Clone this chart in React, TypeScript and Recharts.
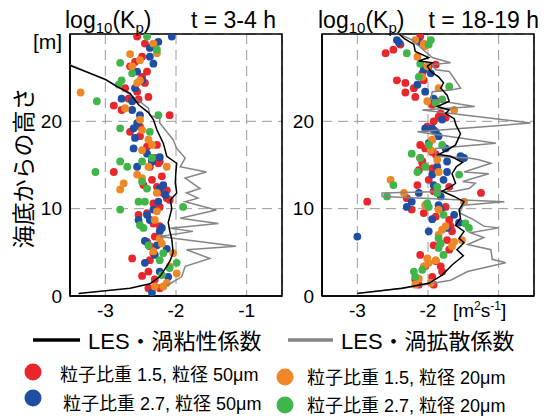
import React from 'react';
import { ScatterChart, Scatter, XAxis, YAxis, CartesianGrid, ReferenceArea } from 'recharts';

// ---- axes ----
const xTicks = [-3, -2, -1];
const yTicks = [0, 10, 20];
const xDomain = [-3.5, -0.5];
const yDomain = [0, 30];

// ---- t = 3-4 h panel : [log10(Kp), height m] ----
const leftRed = [
  [-2.55, 29.7], [-2.44, 28.9], [-2.32, 28.8], [-2.58, 26.8], [-2.48, 27.4], [-2.65, 26.3], [-2.41, 25.7], [-2.48, 25.1],
  [-2.44, 24.4], [-2.72, 23.8], [-2.55, 23.4], [-2.39, 22.8], [-2.67, 22.6], [-2.53, 22.5], [-2.88, 21.8], [-2.77, 21.3],
  [-2.09, 20.7], [-2.51, 19.4], [-2.65, 18.8], [-2.51, 18.3], [-2.27, 17.3], [-2.41, 17.1], [-2.30, 15.8], [-2.23, 15.4],
  [-2.88, 14.2], [-2.37, 14.8], [-2.25, 15.2], [-2.34, 13.3], [-2.27, 12.5], [-2.46, 12.7], [-2.18, 11.8], [-2.13, 11.2],
  [-2.32, 10.6], [-2.23, 10.2], [-2.41, 9.5], [-2.53, 9.3], [-2.32, 8.3], [-2.23, 8.0], [-2.30, 6.8], [-2.41, 6.2],
  [-2.37, 5.7], [-2.32, 4.9], [-2.62, 4.3], [-2.37, 4.1], [-2.39, 2.8], [-2.48, 2.3], [-2.30, 1.9], [-2.39, 0.9],
  [-2.23, 0.9], [-2.09, 11.0], [-2.13, 12.1], [-2.20, 13.7],
];
const leftBlue = [
  [-2.06, 29.7], [-2.25, 29.1], [-2.37, 28.4], [-2.37, 27.4], [-2.32, 26.6], [-2.55, 25.7], [-2.48, 24.7], [-2.58, 23.8],
  [-2.77, 22.6], [-2.62, 22.3], [-2.62, 21.3], [-2.51, 20.7], [-2.55, 19.8], [-2.60, 19.2], [-2.58, 18.1], [-2.60, 16.9],
  [-2.41, 16.3], [-2.23, 15.9], [-2.34, 15.4],
  [-2.55, 14.8], [-2.34, 15.4], [-2.18, 12.7], [-2.23, 12.3], [-2.15, 11.6], [-2.25, 10.8], [-2.32, 9.9], [-2.41, 9.3],
  [-2.53, 8.7], [-2.37, 8.7], [-2.20, 7.8], [-2.23, 7.4], [-2.44, 6.3], [-2.27, 5.8], [-2.13, 5.4], [-2.30, 4.7],
  [-2.44, 3.8], [-2.23, 2.8], [-2.11, 2.2], [-2.34, 0.4],
];
const leftOrange = [
  [-2.32, 28.9], [-2.27, 27.8], [-2.65, 27.7], [-2.51, 27.0], [-2.62, 26.3], [-2.51, 24.7], [-2.55, 24.4], [-3.35, 23.3],
  [-2.72, 21.5], [-2.51, 20.2], [-2.48, 19.0], [-2.39, 17.9], [-2.34, 17.3], [-2.48, 16.7],
  [-2.74, 12.9], [-2.79, 12.2], [-2.55, 13.9], [-2.48, 13.5], [-2.13, 14.8], [-2.39, 14.8], [-2.27, 11.8], [-2.27, 9.7],
  [-2.30, 8.7], [-2.23, 6.6], [-2.20, 6.0], [-2.32, 5.1], [-2.04, 4.9], [-2.09, 3.4], [-1.99, 2.6], [-2.13, 1.5],
  [-2.18, 1.1], [-2.30, 1.1],
];
const leftGreen = [
  [-2.41, 29.7], [-2.27, 28.2], [-2.79, 26.7], [-2.62, 25.5], [-2.77, 24.7], [-2.81, 24.2], [-3.12, 22.3], [-2.25, 20.7],
  [-2.79, 19.2], [-2.37, 18.8], [-2.34, 15.8], [-2.48, 15.4], [-2.79, 15.4],
  [-3.14, 14.2], [-2.69, 14.8], [-2.48, 13.1], [-2.41, 12.3], [-2.53, 10.8], [-2.44, 10.8], [-2.79, 9.9], [-2.51, 8.1],
  [-2.46, 7.8], [-1.90, 10.2], [-2.39, 5.8], [-2.18, 4.9], [-2.23, 4.1], [-1.99, 3.8], [-2.09, 3.2], [-2.20, 2.4],
];
const leftViscosity = [
  [-3.38, 0.3], [-2.65, 0.9], [-2.37, 1.4], [-2.23, 2.2], [-2.13, 3.4], [-2.08, 4.1], [-2.04, 5.0], [-2.06, 6.5],
  [-2.09, 7.5], [-2.11, 8.4], [-2.06, 10.0], [-2.08, 11.0], [-1.99, 11.8], [-2.01, 13.0], [-2.0, 14.4], [-1.99, 15.2],
  [-2.13, 16.0], [-2.18, 17.5], [-2.27, 19.0], [-2.32, 20.2], [-2.39, 21.0], [-2.53, 21.9], [-2.65, 23.2], [-2.84, 24.0],
  [-3.0, 24.8], [-3.5, 26.4],
];
const leftDiffusivity = [
  [-2.13, 1.2], [-1.92, 2.2], [-1.87, 3.4], [-1.52, 4.3], [-1.85, 5.3], [-1.15, 5.7], [-2.23, 6.8], [-1.76, 7.4],
  [-2.08, 7.75], [-1.40, 8.3], [-1.94, 8.9], [-1.43, 9.85], [-1.87, 10.8], [-1.69, 11.2], [-1.85, 11.8], [-1.66, 12.3],
  [-1.87, 13.5], [-1.57, 14.2], [-1.94, 14.8], [-1.87, 15.8], [-1.99, 16.9], [-2.04, 17.9], [-2.23, 19.8], [-2.23, 20.3],
  [-2.37, 20.7], [-2.39, 21.5], [-2.55, 22.5], [-2.79, 23.8], [-2.98, 24.7], [-3.5, 26.5],
];

// ---- t = 18-19 h panel ----
const rightRed = [
  [-2.60, 27.8], [-2.49, 28.2], [-2.39, 28.8], [-2.11, 29.7], [-1.89, 26.5], [-1.99, 26.3], [-2.08, 25.5], [-2.44, 24.7],
  [-2.32, 24.4], [-2.20, 23.8], [-2.32, 23.3], [-2.18, 22.8], [-2.06, 24.7], [-1.89, 22.3], [-1.94, 21.9], [-1.85, 20.5],
  [-1.92, 20.0], [-2.01, 19.4], [-1.92, 19.0], [-2.11, 17.3], [-2.04, 16.9], [-1.94, 16.5], [-1.89, 16.2], [-2.11, 15.8],
  [-2.08, 15.4], [-1.75, 20.4], [-1.82, 20.9],
  [-2.08, 15.2], [-2.13, 14.4], [-1.94, 14.6], [-1.99, 13.3], [-2.15, 12.7], [-1.92, 12.0], [-1.85, 11.8], [-1.70, 12.5],
  [-1.25, 11.8], [-2.86, 10.8], [-2.30, 11.2], [-2.23, 9.9], [-2.06, 9.5], [-1.89, 9.1], [-1.75, 10.2], [-1.70, 8.7],
  [-1.68, 8.0], [-1.66, 7.4], [-1.73, 6.4], [-1.92, 5.8], [-1.70, 5.3], [-2.11, 4.7], [-1.89, 4.0], [-2.04, 3.4],
  [-1.82, 3.4], [-1.80, 2.8], [-1.94, 2.2], [-2.18, 1.9], [-2.13, 1.3], [-1.92, 1.3],
];
const rightBlue = [
  [-2.44, 29.3], [-2.41, 29.0], [-2.13, 29.1], [-2.06, 25.9], [-1.96, 25.5], [-2.15, 24.2], [-2.04, 23.4], [-1.92, 22.6],
  [-2.04, 19.2], [-1.94, 19.2], [-1.80, 20.2], [-1.89, 18.8], [-1.99, 17.5], [-1.85, 18.3], [-1.75, 16.9], [-1.73, 15.4],
  [-1.54, 16.0], [-1.49, 15.8],
  [-1.87, 14.8], [-1.73, 14.2], [-1.94, 13.9], [-1.78, 13.3], [-1.92, 12.7], [-2.13, 11.8], [-1.82, 11.4], [-2.23, 10.8],
  [-2.30, 10.2], [-1.85, 10.4], [-1.82, 9.9], [-1.63, 9.3], [-1.94, 8.8], [-1.56, 8.4], [-1.73, 7.8], [-1.99, 7.4],
  [-3.00, 6.8],
];
const rightOrange = [
  [-2.06, 28.9], [-2.04, 28.6], [-2.18, 29.3], [-2.15, 27.4], [-2.01, 26.3], [-2.08, 25.1], [-1.85, 23.8], [-2.01, 22.3],
  [-1.63, 21.3], [-1.94, 17.9], [-1.96, 16.7], [-1.87, 15.6],
  [-2.53, 13.3], [-2.34, 11.8], [-1.85, 14.2], [-2.04, 10.4], [-1.85, 9.9], [-1.49, 10.8], [-1.75, 8.0], [-1.80, 7.6],
  [-1.85, 7.0], [-1.63, 6.2], [-1.52, 6.4], [-1.66, 5.7], [-1.89, 4.1], [-1.99, 3.8], [-2.01, 4.3], [-2.06, 3.4],
  [-2.13, 2.0], [-2.18, 1.3], [-1.96, 1.5],
];
const rightGreen = [
  [-2.30, 27.8], [-1.99, 28.8], [-1.96, 29.3], [-2.11, 26.6], [-2.13, 25.1], [-1.70, 24.0], [-1.80, 22.5], [-1.89, 22.1],
  [-1.99, 17.3], [-1.80, 17.3], [-2.23, 16.3], [-2.11, 15.8],
  [-2.04, 14.8], [-2.15, 14.2], [-1.56, 13.9], [-2.49, 12.7], [-1.87, 12.5], [-1.87, 11.8], [-2.58, 11.4], [-2.01, 10.6],
  [-1.99, 10.2], [-1.78, 9.3], [-1.47, 8.3], [-1.42, 7.8], [-1.85, 6.6], [-1.82, 6.0], [-1.85, 5.5], [-1.78, 4.7],
  [-2.08, 3.0], [-2.20, 2.8], [-2.18, 2.2],
];
const rightViscosity = [
  [-3.0, 0.3], [-2.37, 0.9], [-1.99, 1.45], [-1.80, 2.4], [-1.66, 3.55], [-1.50, 4.6], [-1.59, 5.3], [-1.49, 6.1],
  [-1.56, 6.6], [-1.49, 7.4], [-1.61, 8.1], [-1.54, 8.9], [-1.56, 9.85], [-1.49, 10.8], [-1.63, 11.4], [-1.80, 12.0],
  [-1.68, 12.5], [-1.61, 12.9], [-1.66, 14.0], [-1.60, 14.8], [-1.51, 15.3], [-1.68, 16.0], [-1.85, 16.2], [-1.73, 16.7],
  [-1.61, 17.3], [-1.54, 18.6], [-1.60, 19.5], [-1.63, 20.3], [-1.75, 20.9], [-1.70, 21.3], [-1.87, 21.7], [-1.70, 22.3],
  [-1.73, 23.0], [-1.82, 23.8], [-1.78, 24.4], [-1.85, 25.1], [-1.96, 25.7], [-2.01, 26.3], [-1.94, 26.7], [-2.13, 26.9],
  [-1.99, 27.3], [-2.18, 28.0], [-2.20, 28.8], [-2.34, 29.5], [-2.41, 30.0],
];
const rightDiffusivity = [
  [-3.0, 0.3], [-2.35, 0.9], [-1.68, 1.8], [-1.44, 2.8], [-0.90, 3.8], [-1.09, 4.2], [-1.11, 5.3], [-1.44, 5.9],
  [-1.21, 6.7], [-1.40, 7.25], [-1.0, 7.8], [-1.21, 8.0], [-1.37, 8.8], [-1.55, 9.5], [-1.50, 10.4], [-0.92, 10.8],
  [-2.65, 11.4], [-2.65, 11.8], [-1.63, 12.0], [-1.42, 12.3], [-1.33, 12.9], [-1.51, 13.1], [-1.14, 14.0], [-1.49, 14.2],
  [-1.11, 15.2], [-1.28, 15.6], [-1.42, 15.8], [-1.89, 16.0], [-1.89, 16.9], [-1.04, 17.5], [-2.15, 18.8], [-0.55, 19.8],
  [-2.08, 21.3], [-1.34, 21.7], [-1.96, 22.5], [-1.94, 23.4], [-1.68, 23.6], [-1.54, 23.8], [-1.63, 24.9], [-1.70, 25.7],
  [-1.89, 25.9], [-1.94, 26.5], [-1.68, 26.7], [-1.94, 27.3], [-2.04, 28.0], [-2.22, 29.3], [-2.41, 30.0],
];

const RED = '#e8262c';
const BLUE = '#1f4fa3';
const ORANGE = '#ef8726';
const GREEN = '#3fb54a';
const GRAY = '#858585';
const FONT = "'Liberation Sans', Arial, 'Noto Sans CJK JP', sans-serif";
const JFONT = "'Liberation Sans', Arial, 'Noto Sans CJK JP', sans-serif";

const toObj = (arr: number[][]) => arr.map(([x, y]) => ({ x, y }));

const dot = (color: string) => (props: any) => (
  <circle cx={props.cx} cy={props.cy} r={3.9} fill={color} />
);
const noDot = () => <g />;

function Panel({ red, blue, orange, green, visc, diff, showLast }: any) {
  return (
    <ScatterChart width={290} height={330} margin={{ top: 34, right: 8, bottom: 4, left: 40 }}>
      <CartesianGrid stroke="#9a9a9a" strokeDasharray="10 6" strokeWidth={1} />
      <XAxis
        type="number"
        dataKey="x"
        domain={xDomain}
        ticks={xTicks}
        allowDataOverflow
        height={30}
        axisLine={{ stroke: '#000', strokeWidth: 1.6 }}
        tickLine={false}
        tick={{ fill: '#000', fontSize: 19, fontFamily: FONT }}
        tickFormatter={(v: number) => (!showLast && v === -1 ? '' : String(v))}
      />
      <YAxis
        type="number"
        dataKey="y"
        domain={yDomain}
        ticks={yTicks}
        allowDataOverflow
        width={30}
        axisLine={{ stroke: '#000', strokeWidth: 1.6 }}
        tickLine={false}
        tick={{ fill: '#000', fontSize: 19, fontFamily: FONT }}
      />
      <ReferenceArea x1={-3.5} x2={-0.5} y1={0} y2={30} fill="none" stroke="#000" strokeWidth={1.6} />
      <Scatter data={toObj(red)} shape={dot(RED)} isAnimationActive={false} />
      <Scatter data={toObj(blue)} shape={dot(BLUE)} isAnimationActive={false} />
      <Scatter data={toObj(orange)} shape={dot(ORANGE)} isAnimationActive={false} />
      <Scatter data={toObj(green)} shape={dot(GREEN)} isAnimationActive={false} />
      <Scatter data={toObj(diff)} shape={noDot} line={{ stroke: GRAY, strokeWidth: 1.5 }} fill={GRAY} isAnimationActive={false} />
      <Scatter data={toObj(visc)} shape={noDot} line={{ stroke: '#000', strokeWidth: 1.5 }} fill="#000" isAnimationActive={false} />
    </ScatterChart>
  );
}

function Title({ x, right, time }: { x: number; right: number; time: string }) {
  return (
    <g fontFamily={FONT} fill="#000">
      <text x={x} y={28} fontSize={23}>
        log<tspan fontSize={15} dy={5}>10</tspan>
        <tspan dy={-5}>(K</tspan>
        <tspan fontSize={15} dy={5}>p</tspan>
        <tspan dy={-5}>)</tspan>
      </text>
      <text x={right} y={28} fontSize={23} textAnchor="end">{time}</text>
    </g>
  );
}

export default function App() {
  return (
    <div style={{ position: 'absolute', left: 0, top: 0, width: 547, height: 416, background: '#fff', overflow: 'hidden' }}>
      <div style={{ position: 'absolute', left: 0, top: 0 }}>
        <Panel red={leftRed} blue={leftBlue} orange={leftOrange} green={leftGreen} visc={leftViscosity} diff={leftDiffusivity} showLast />
      </div>
      <div style={{ position: 'absolute', left: 252, top: 0 }}>
        <Panel red={rightRed} blue={rightBlue} orange={rightOrange} green={rightGreen} visc={rightViscosity} diff={rightDiffusivity} showLast={false} />
      </div>
      <svg width={547} height={416} style={{ position: 'absolute', left: 0, top: 0, pointerEvents: 'none' }}>
        <Title x={65} right={276} time="t = 3-4 h" />
        <Title x={318} right={539} time="t = 18-19 h" />
        <text x={33} y={49} fontSize={21} fontFamily={FONT}>[m]</text>
        <text
          transform="translate(24,168) rotate(-90)"
          textAnchor="middle"
          dominantBaseline="central"
          fontSize={23}
          fontFamily={JFONT}
        >
          海底からの高さ
        </text>
        <text x={453} y={317} fontSize={19} fontFamily={FONT}>
          [m<tspan fontSize={12} dy={-7}>2</tspan>
          <tspan dy={7}>s</tspan>
          <tspan fontSize={12} dy={-7}>-1</tspan>
          <tspan dy={7}>]</tspan>
        </text>
        {/* legend lines */}
        <line x1={33} x2={80} y1={340} y2={340} stroke="#000" strokeWidth={3.5} />
        <text x={88} y={349} fontSize={22} fontFamily={JFONT}>LES・渦粘性係数</text>
        <line x1={288} x2={333} y1={340} y2={340} stroke={GRAY} strokeWidth={3.5} />
        <text x={341} y={349} fontSize={22} fontFamily={JFONT}>LES・渦拡散係数</text>
        {/* legend dots */}
        <circle cx={33} cy={372} r={8.5} fill={RED} />
        <text x={60} y={381} fontSize={18} fontFamily={JFONT}>粒子比重 1.5, 粒径 50μm</text>
        <circle cx={33} cy={398} r={8.5} fill={BLUE} />
        <text x={63} y={410} fontSize={18} fontFamily={JFONT}>粒子比重 2.7, 粒径 50μm</text>
        <circle cx={285} cy={377} r={8.5} fill={ORANGE} />
        <text x={307} y={384} fontSize={18} fontFamily={JFONT}>粒子比重 1.5, 粒径 20μm</text>
        <circle cx={285} cy={405} r={8.5} fill={GREEN} />
        <text x={307} y={412} fontSize={18} fontFamily={JFONT}>粒子比重 2.7, 粒径 20μm</text>
      </svg>
    </div>
  );
}
